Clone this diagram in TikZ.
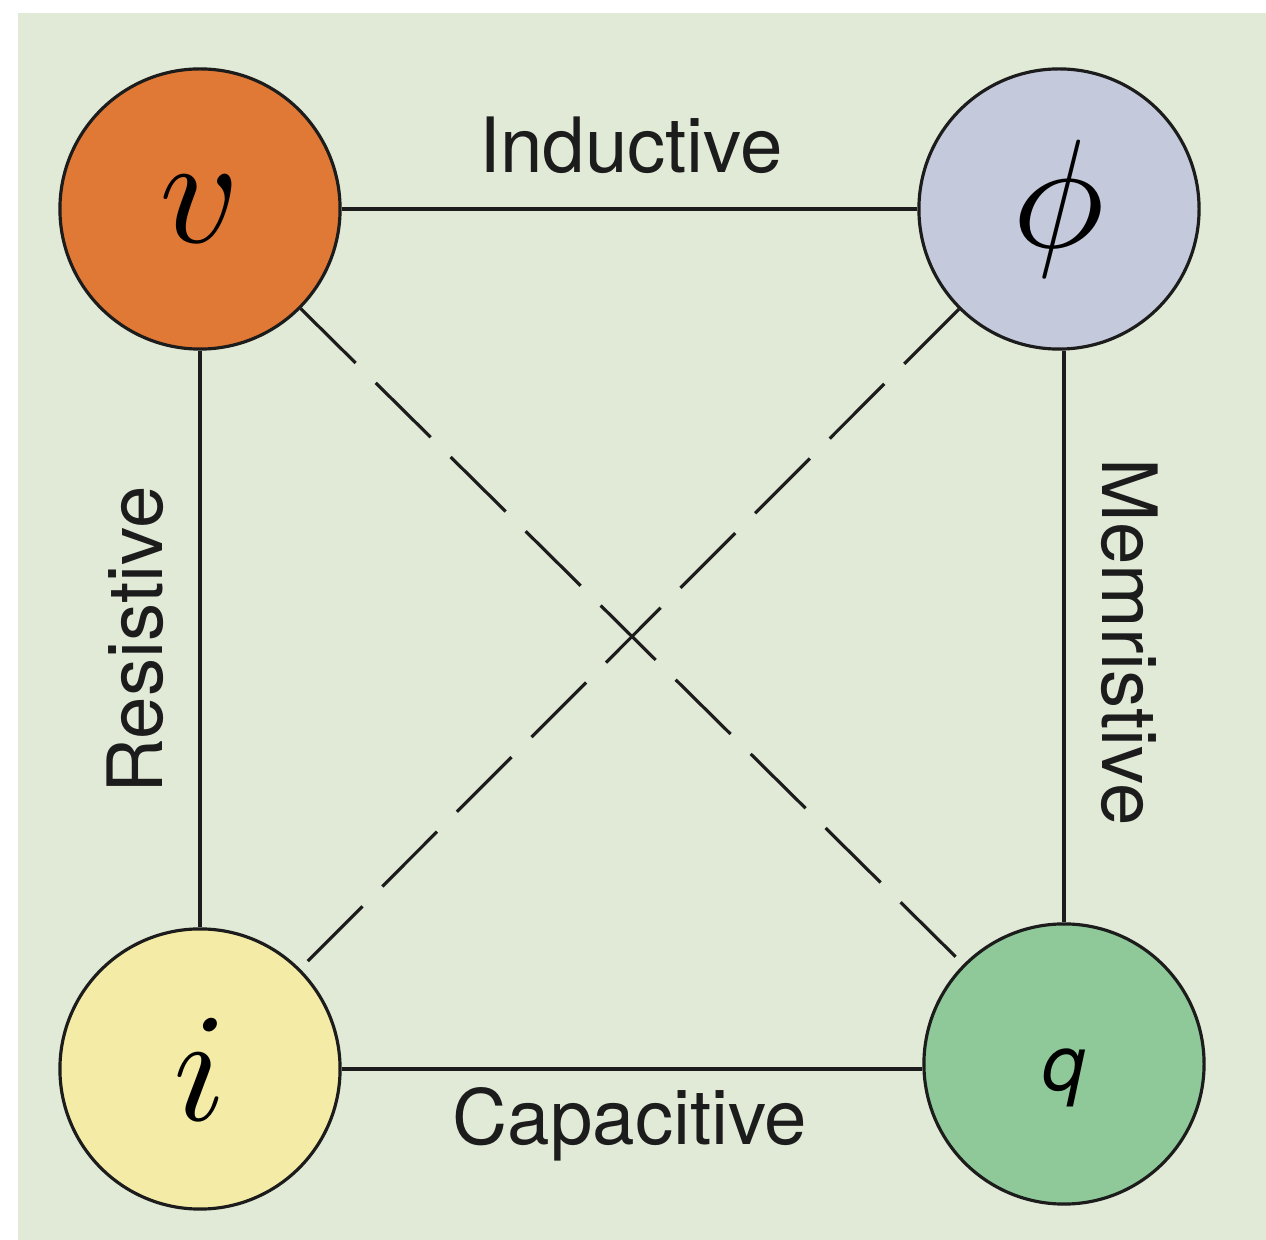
\documentclass[tikz,border=0pt]{standalone}
\usepackage{graphicx}
\usepackage{fontspec}
\setmainfont{TeX Gyre Heros}
\definecolor{bgcol}{RGB}{225,234,214}
\definecolor{vcol}{RGB}{225,121,54}
\definecolor{phicol}{RGB}{196,202,219}
\definecolor{icol}{RGB}{243,235,166}
\definecolor{qcol}{RGB}{143,201,153}
\definecolor{inkcol}{RGB}{28,28,28}
\tikzset{
  var/.style={circle, draw=inkcol, line width=0.9pt, minimum size=2.8cm, inner sep=0pt},
  relation/.style={text=inkcol, font=\fontsize{21.7}{22}\selectfont, inner sep=0pt, anchor=base},
}
\newcommand{\bigsym}[1]{\scalebox{4.4}{$#1$}}
\begin{document}
\begin{tikzpicture}[x=0.01cm, y=-0.01cm]
      \useasboundingbox (0,0) rectangle (1266,1240);
      \fill[bgcol] (18,13) rectangle (1266,1240);
      \draw
        (200,209) node[var, fill=vcol] (v){\bigsym{v}}
        (1059,209) node[var, fill=phicol] (phi){\bigsym{\phi}}
        (200,1069) node[var, fill=icol] (i){\bigsym{i}}
        (1064,1064) node[var, fill=qcol] (q){\raisebox{-0.265cm}[0pt][0pt]{\fontsize{22}{22}\selectfont\itshape q}};
      \begin{scope}[inkcol, line width=0.9pt]
        \draw (v) to (phi);
        \draw (v) to (i);
        \draw (q.north) to (q.north |- phi.south);
        \draw (i.east) to (q.west |- i.east);
      \end{scope}
      \begin{scope}[inkcol, line width=0.9pt, dash pattern=on 22pt off 8pt]
        \draw (v) to (q);
        \draw (phi) to (i);
      \end{scope}
      \node[relation] (ind) at (631,173) {Inductive};
      \node[relation] (cap) at (630,1145) {Capacitive};
      \node[relation, rotate=90] (res) at (162,640) {Resistive};
      \node[relation, rotate=-90] (mem) at (1102,642) {Memristive};
    \end{tikzpicture}
\end{document}
